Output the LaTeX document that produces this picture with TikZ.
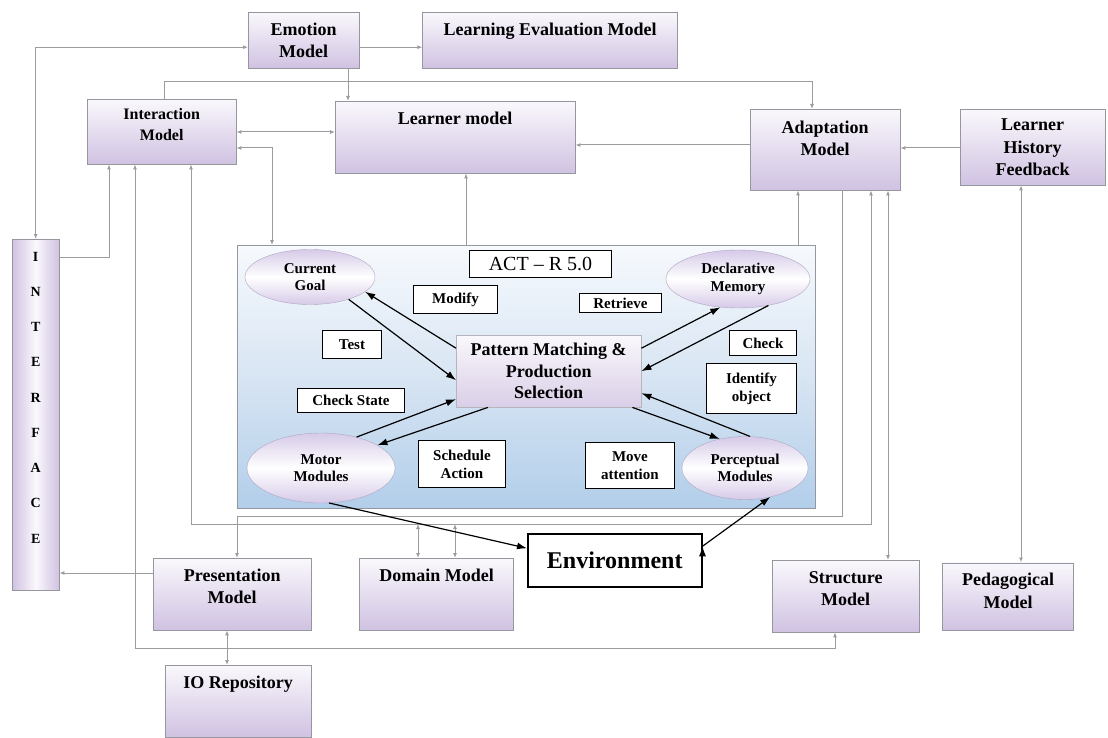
\documentclass[tikz,border=0pt]{standalone}
\usepackage{fontspec}
\setmainfont{Liberation Serif}
\usetikzlibrary{shapes.geometric,arrows.meta,positioning}
\definecolor{boxtop}{RGB}{250,248,252}
\definecolor{boxbot}{RGB}{208,194,226}
\definecolor{boxline}{RGB}{150,150,158}
\definecolor{modtop}{RGB}{214,202,232}
\definecolor{modline}{RGB}{175,165,195}
\definecolor{acttop}{RGB}{246,249,253}
\definecolor{actmid}{RGB}{216,229,243}
\definecolor{actbot}{RGB}{178,206,234}
\definecolor{linkgray}{RGB}{155,155,160}

\begin{document}
\begin{tikzpicture}[x=1pt,y=-1pt,>={Latex[length=5pt,width=4pt]},
  model node/.style={rectangle,draw=boxline,top color=boxtop,bottom color=boxbot,anchor=north west,align=center,inner sep=4pt,font=\bfseries\fontsize{18}{22.5}\selectfont},
  top text/.style 2 args={text height=#1,text depth=#2},
  module node/.style={ellipse,draw=modline,top color=modtop,bottom color=modtop,middle color=white,inner sep=0pt,align=center,font=\bfseries\fontsize{15}{17.5}\selectfont},
  tag node/.style={rectangle,draw=black,fill=white,line width=0.9pt,anchor=north west,align=center,inner sep=2pt,font=\bfseries\fontsize{15}{18}\selectfont},
  link/.style={->,draw=linkgray,line width=1pt},
  flow/.style={-{Latex[length=10pt,width=7pt]},draw=black,line width=1.2pt}]

  \useasboundingbox (0,0) rectangle (1108,738);

  \node[model node,minimum width=111pt,minimum height=56pt] (1) at (248,12) {Emotion\\Model};
  \node[model node,top text={19pt}{29pt},minimum width=255pt,right=63pt of 1] (2) {Learning Evaluation Model};
  \node[model node,font=\bfseries\fontsize{16}{21}\selectfont,top text={37pt}{20pt},minimum width=149pt] (3) at (87,99) {Interaction\\Model};
  \node[model node,top text={19pt}{45pt},minimum width=240pt] (4) at (335,101) {Learner model};
  \node[model node,top text={42.5pt}{30.5pt},minimum width=150pt] (5) at (750,109) {Adaptation\\Model};
  \node[model node,minimum width=145pt,minimum height=76pt] (6) at (960,109) {Learner\\History\\Feedback};
  \node[model node,left color=boxbot,right color=boxbot,middle color=boxtop,font=\bfseries\fontsize{14}{35.25}\selectfont,top text={300pt}{43pt},minimum width=47pt] (7) at (12,239) {I\\N\\T\\E\\R\\F\\A\\C\\E};

  \node[draw=boxline,top color=acttop,bottom color=actbot,middle color=actmid,minimum width=578pt,minimum height=263pt,anchor=north west] (8) at (237,245) {};

  \node[model node,top text={41.5pt}{22.5pt},minimum width=158pt] (9) at (153,558) {Presentation\\Model};
  \node[model node,top text={19pt}{45pt},minimum width=154pt,right=48pt of 9] (10) {Domain Model};
  \node[model node,top text={41.5pt}{22.5pt},minimum width=147pt] (11) at (772,560) {Structure\\Model};
  \node[model node,top text={41.5pt}{17.5pt},minimum width=131pt,right=23pt of 11] (12) {Pedagogical\\Model};
  \node[model node,top text={19pt}{45pt},minimum width=146pt] (13) at (165,665) {IO Repository};

  \node[tag node,font=\bfseries\fontsize{24}{28}\selectfont,line width=1.5pt,minimum width=174pt,minimum height=53pt] (14) at (527,533) {Environment};
  \node[tag node,font=\fontsize{20}{24}\selectfont,minimum width=142pt,minimum height=27pt] (15) at (469,250) {ACT -- R 5.0};

  \node[module node,minimum width=130pt,minimum height=55pt] (16) at (310,277) {Current\\Goal};
  \node[module node,minimum width=144pt,minimum height=58pt] (17) at (738,279) {Declarative\\Memory};
  \node[model node,draw=boxline!70,bottom color=boxbot!80,font=\bfseries\fontsize{18}{21.5}\selectfont,minimum width=185pt,minimum height=72pt] (18) at (456,335) {Pattern Matching \&\\Production\\Selection};
  \node[module node,minimum width=148pt,minimum height=70pt] (19) at (321,468) {Motor\\Modules};
  \node[module node,minimum width=126pt,minimum height=63pt] (20) at (745,468) {Perceptual\\Modules};

  \node[tag node,minimum width=84pt,minimum height=28pt] (21) at (413,285) {Modify};
  \node[tag node,minimum width=82pt,minimum height=19pt] (22) at (579,293) {Retrieve};
  \node[tag node,minimum width=59pt,minimum height=28pt] (23) at (322,330) {Test};
  \node[tag node,minimum width=67pt,minimum height=25pt] (24) at (729,330) {Check};
  \node[tag node,minimum width=90pt,minimum height=50pt] (25) at (706,363) {Identify\\object};
  \node[tag node,minimum width=107pt,minimum height=24pt] (26) at (297,388) {Check State};
  \node[tag node,minimum width=87pt,minimum height=47pt] (27) at (418,440) {Schedule\\Action};
  \node[tag node,minimum width=89pt,minimum height=46pt] (28) at (585,442) {Move\\attention};

  \coordinate (d1) at (418,524);
  \coordinate (d2) at (455,524);

  \draw[link,<->] (7.north) |- ([yshift=-7pt]1.west);
  \draw[link] ([yshift=-7pt]1.east) -- ([yshift=-7pt]2.west);
  \draw[link] (1.south -| 348,0) -- (4.north -| 348,0);
  \draw[link] (3.north -| 164,0) |- (812,82) -- (5.north -| 812,0);
  \draw[link,<->] (3.east |- 0,132) -- (4.west |- 0,132);
  \draw[link,<->] (3.east |- 0,148) -| (8.north -| 272,0);
  \draw[link] (5.west |- 0,145) -- (4.east |- 0,145);
  \draw[link] (6.west |- 0,148) -- (5.east |- 0,148);
  \draw[link] (8.north -| 466,0) -- (4.south -| 466,0);
  \draw[link] (8.north -| 798,0) -- (5.south -| 798,0);
  \draw[link] (7.east |- 0,257) -| (3.south -| 109,0);
  \draw[link,<->] (3.south -| 135,0) |- (835,648) -- (11.south -| 835,0);
  \draw[link,<->] (3.south -| 191,0) |- (871,524) -- (5.south -| 871,0);
  \draw[link] (5.south -| 842,0) |- (237,516) -- (9.north -| 237,0);
  \draw[link,<->] (5.south -| 888,0) -- (11.north -| 888,0);
  \draw[link,<->] (6.south -| 1021,0) -- (12.north -| 1021,0);
  \draw[link] (9.west |- 0,573) -- (7.east |- 0,573);
  \draw[link,<->] (9.south -| 227,0) -- (13.north -| 227,0);
  \draw[link,<->] (d1) -- (10.north -| d1);
  \draw[link,<->] (d2) -- (10.north -| d2);

  \path[flow]
    ([yshift=23pt]18.west) edge (16.-15)
    (16.-30) edge ([yshift=-9pt]18.west)
    ([yshift=23pt]18.east) edge (17.-122)
    (17.-41) edge (18.east)
    (19.41) edge ([yshift=-28pt]18.west)
    ([xshift=32pt]18.south west) edge (19.22)
    ([xshift=-9pt]18.south east) edge (20.131)
    (20.81) edge ([yshift=-22pt]18.east)
    (19.-77) edge ([yshift=12pt]14.west)
    ([yshift=14pt]14.east) edge (20.-49);
\end{tikzpicture}
\end{document}
